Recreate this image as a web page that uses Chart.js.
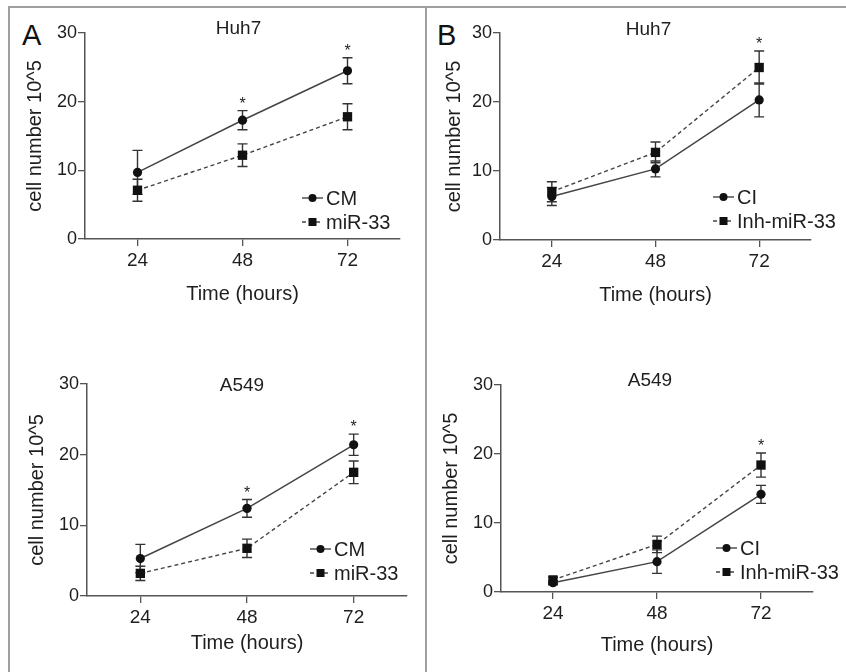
<!DOCTYPE html>
<html>
<head>
<meta charset="utf-8">
<script src="https://cdn.jsdelivr.net/npm/chart.js@4.4.1/dist/chart.umd.min.js"></script>
<style>
body { margin: 0; background: #fff; width: 846px; height: 672px; position: relative; overflow: hidden; font-family: "Liberation Sans", Arial, sans-serif; }
canvas { position: absolute; }
.frame { position: absolute; background: #a0a0a0; }
.letter { position: absolute; font-size: 29px; line-height: 1; color: #111; }
</style>
</head>
<body>
<div class="frame" style="left:8px;top:6px;width:838px;height:2px"></div>
<div class="frame" style="left:8px;top:6px;width:2px;height:666px"></div>
<div class="frame" style="left:425px;top:6px;width:2px;height:666px"></div>
<div class="letter" style="left:22px;top:21px">A</div>
<div class="letter" style="left:437px;top:21px">B</div>
<canvas id="huh7A"></canvas>
<canvas id="huh7B"></canvas>
<canvas id="a549A"></canvas>
<canvas id="a549B"></canvas>
<script>
// shared axes
const hours = [24, 48, 72];
const yTickValues = [0, 10, 20, 30];

// A - Huh7
const huh7CM = [9.7, 17.3, 24.5];
const huh7CMErr = [3.2, 1.4, 1.9];
const huh7MiR = [7.1, 12.2, 17.8];
const huh7MiRErr = [1.6, 1.65, 1.9];
const huh7AStars = [false, true, true];

// B - Huh7
const huh7CI = [6.3, 10.3, 20.3];
const huh7CIErr = [1.3, 1.15, 2.45];
const huh7Inh = [7.0, 12.7, 25.0];
const huh7InhErr = [1.45, 1.5, 2.4];
const huh7BStars = [false, false, true];

// A - A549
const a549CM = [5.3, 12.4, 21.4];
const a549CMErr = [2.0, 1.25, 1.5];
const a549MiR = [3.2, 6.75, 17.5];
const a549MiRErr = [1.0, 1.3, 1.6];
const a549AStars = [false, true, true];

// B - A549
const a549CI = [1.35, 4.4, 14.15];
const a549CIErr = [0.3, 1.7, 1.3];
const a549Inh = [1.75, 6.9, 18.4];
const a549InhErr = [0.4, 1.2, 1.75];
const a549BStars = [false, false, true];

const FONT = '"Liberation Sans", Arial, sans-serif';
const INK = '#1e1e1e';
const AXIS = '#555';

function points(vals) {
    return vals.map((v, i) => ({ x: hours[i], y: v }));
}

// error bars under the markers
const errorBars = {
    id: 'errorBars',
    beforeDatasetsDraw(chart) {
        const ctx = chart.ctx;
        const y = chart.scales.y;
        ctx.save();
        ctx.strokeStyle = '#333';
        ctx.lineWidth = 1.4;
        chart.data.datasets.forEach((ds, i) => {
            chart.getDatasetMeta(i).data.forEach((pt, j) => {
                const v = ds.data[j].y, e = ds.errors[j];
                const top = y.getPixelForValue(v + e);
                const bot = y.getPixelForValue(v - e);
                ctx.beginPath();
                ctx.moveTo(pt.x, top); ctx.lineTo(pt.x, bot);
                ctx.moveTo(pt.x - 5, top); ctx.lineTo(pt.x + 5, top);
                ctx.moveTo(pt.x - 5, bot); ctx.lineTo(pt.x + 5, bot);
                ctx.stroke();
            });
        });
        ctx.restore();
    }
};

// title, asterisks and the line+marker legend
const panelText = {
    id: 'panelText',
    afterDraw(chart, args, o) {
        const ctx = chart.ctx;
        const area = chart.chartArea;
        const x = chart.scales.x, y = chart.scales.y;
        ctx.save();
        ctx.fillStyle = INK;
        ctx.textBaseline = 'middle';
        ctx.textAlign = 'center';
        ctx.font = '19px ' + FONT;
        ctx.fillText(o.title, (area.left + area.right) / 2 + o.titleDx, area.top + o.titleDy);

        ctx.font = '16px ' + FONT;
        ctx.textBaseline = 'alphabetic';
        o.stars.forEach((s, j) => {
            if (!s) return;
            let top = 0;
            chart.data.datasets.forEach(ds => { top = Math.max(top, ds.data[j].y + ds.errors[j]); });
            ctx.fillText('*', x.getPixelForValue(hours[j]), y.getPixelForValue(top) - 2);
        });

        ctx.textAlign = 'left';
        ctx.textBaseline = 'middle';
        ctx.font = '20px ' + FONT;
        chart.data.datasets.forEach((ds, i) => {
            const x0 = area.right - o.legendX;
            const yy = area.bottom - o.legendY + i * 24;
            ctx.strokeStyle = ds.borderColor;
            ctx.lineWidth = 1.4;
            ctx.setLineDash(ds.borderDash || []);
            ctx.beginPath();
            ctx.moveTo(x0, yy); ctx.lineTo(x0 + 21, yy);
            ctx.stroke();
            ctx.setLineDash([]);
            ctx.fillStyle = '#111';
            if (ds.pointStyle === 'rect') {
                ctx.fillRect(x0 + 10.5 - 4, yy - 4, 8, 8);
            } else {
                ctx.beginPath();
                ctx.arc(x0 + 10.5, yy, 4, 0, Math.PI * 2);
                ctx.fill();
            }
            ctx.fillStyle = INK;
            ctx.fillText(ds.label, x0 + 24, yy + 1);
        });
        ctx.restore();
    }
};

function makePanel(id, p) {
    const canvas = document.getElementById(id);
    const w = (p.area.r - p.area.l) + 100;
    const h = (p.area.b - p.area.t) + 30 + p.xHeight;
    canvas.width = w;
    canvas.height = h;
    canvas.style.left = (p.area.l - 70) + 'px';
    canvas.style.top = (p.area.t - 30) + 'px';

    return new Chart(canvas.getContext('2d'), {
        type: 'line',
        data: {
            datasets: [{
                label: p.names[0],
                data: points(p.series[0]),
                errors: p.errors[0],
                borderColor: '#444',
                borderWidth: 1.5,
                pointStyle: 'circle',
                pointRadius: 4.6,
                pointBackgroundColor: '#111',
                pointBorderColor: '#111',
                pointBorderWidth: 0
            }, {
                label: p.names[1],
                data: points(p.series[1]),
                errors: p.errors[1],
                borderColor: '#444',
                borderWidth: 1.4,
                borderDash: [4, 3],
                pointStyle: 'rect',
                pointRadius: 6.6,
                pointBackgroundColor: '#111',
                pointBorderColor: '#111',
                pointBorderWidth: 0
            }]
        },
        options: {
            responsive: false,
            animation: false,
            layout: { padding: { top: 30, right: 30, left: 0, bottom: 0 } },
            plugins: {
                legend: { display: false },
                tooltip: { enabled: false },
                panelText: p.text
            },
            scales: {
                x: {
                    type: 'linear',
                    min: 12,
                    max: 84,
                    afterBuildTicks: s => { s.ticks = hours.map(v => ({ value: v })); },
                    afterFit: s => { s.height = p.xHeight; },
                    grid: { drawOnChartArea: false, drawTicks: true, tickLength: 7, color: AXIS, lineWidth: 1.3 },
                    border: { color: AXIS, width: 1.5 },
                    ticks: { padding: 3, color: INK, font: { size: 19, family: FONT } },
                    title: {
                        display: true,
                        text: 'Time (hours)',
                        color: INK,
                        font: { size: 20, family: FONT },
                        padding: { top: 4, bottom: 4 }
                    }
                },
                y: {
                    min: 0,
                    max: 30,
                    afterBuildTicks: s => { s.ticks = yTickValues.map(v => ({ value: v })); },
                    afterFit: s => { s.width = 70; },
                    grid: { drawOnChartArea: false, drawTicks: true, tickLength: 7, color: AXIS, lineWidth: 1.3 },
                    border: { color: AXIS, width: 1.5 },
                    ticks: { padding: 1, color: INK, font: { size: 18, family: FONT } },
                    title: {
                        display: true,
                        text: 'cell number 10^5',
                        color: INK,
                        font: { size: 20, family: FONT },
                        padding: { top: p.yTitlePad, bottom: 4 }
                    }
                }
            }
        },
        plugins: [errorBars, panelText]
    });
}

makePanel('huh7A', {
    area: { l: 85, r: 400, t: 33, b: 239 },
    xHeight: 71,
    yTitlePad: 8,
    names: ['CM', 'miR-33'],
    series: [huh7CM, huh7MiR],
    errors: [huh7CMErr, huh7MiRErr],
    text: { title: 'Huh7', titleDx: -4, titleDy: -4, stars: huh7AStars, legendX: 98, legendY: 41 }
});

makePanel('huh7B', {
    area: { l: 500, r: 811, t: 33, b: 240 },
    xHeight: 71,
    yTitlePad: 12,
    names: ['CI', 'Inh-miR-33'],
    series: [huh7CI, huh7Inh],
    errors: [huh7CIErr, huh7InhErr],
    text: { title: 'Huh7', titleDx: -7, titleDy: -3, stars: huh7BStars, legendX: 98, legendY: 43 }
});

makePanel('a549A', {
    area: { l: 87, r: 407, t: 384, b: 596 },
    xHeight: 63,
    yTitlePad: 8,
    names: ['CM', 'miR-33'],
    series: [a549CM, a549MiR],
    errors: [a549CMErr, a549MiRErr],
    text: { title: 'A549', titleDx: -5, titleDy: 2, stars: a549AStars, legendX: 97, legendY: 47 }
});

makePanel('a549B', {
    area: { l: 501, r: 813, t: 385, b: 592 },
    xHeight: 69,
    yTitlePad: 8,
    names: ['CI', 'Inh-miR-33'],
    series: [a549CI, a549Inh],
    errors: [a549CIErr, a549InhErr],
    text: { title: 'A549', titleDx: -7, titleDy: -4, stars: a549BStars, legendX: 97, legendY: 44 }
});
</script>
</body>
</html>
